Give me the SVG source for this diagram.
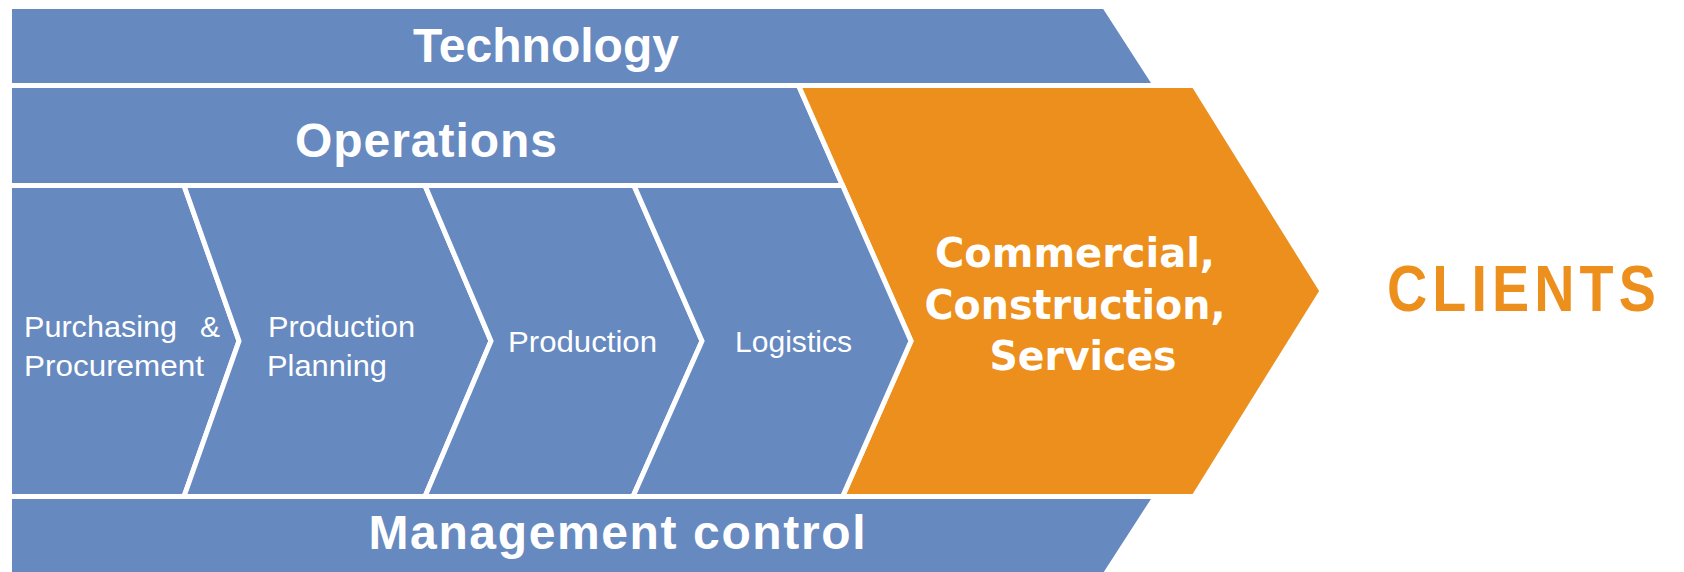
<svg xmlns="http://www.w3.org/2000/svg" width="1684" height="572" viewBox="0 0 1684 572">
<style>
.blue{fill:#6689C0;stroke:#FFFFFF;stroke-width:5;stroke-linejoin:miter}
.orange{fill:#EC8F1D;stroke:#FFFFFF;stroke-width:5;stroke-linejoin:miter}
.hd{font-family:"Liberation Sans",Arial,sans-serif;font-weight:bold;fill:#FFFFFF}
.cm{font-family:"DejaVu Sans",Verdana,sans-serif;font-weight:bold;font-size:40px;fill:#FFFFFF}
.sm{font-family:"Liberation Sans",Arial,sans-serif;font-size:30px;fill:#FFFFFF}
.cl{font-family:"Liberation Sans",Arial,sans-serif;font-weight:bold;font-size:64px;fill:#EC8F1D}
</style>
<rect width="1684" height="572" fill="#FFFFFF"/>
<g id="technology">
<polygon class="blue" points="9.5,6.5 1104.5,6.5 1155.5,85.5 9.5,85.5"/>
<text class="hd" x="546" y="62" font-size="48" text-anchor="middle">Technology</text>
</g>
<g id="operations">
<polygon class="blue" points="9.5,85.5 798.6,85.5 842.6,185.5 9.5,185.5"/>
<text class="hd" x="426" y="157" font-size="48" text-anchor="middle" textLength="262" lengthAdjust="spacing">Operations</text>
</g>
<g id="commercial">
<polygon class="orange" points="798.6,85.5 1194,85.5 1322,291 1194,496.5 842.6,496.5 911,341"/>
<text class="cm" text-anchor="middle">
<tspan x="1082" y="267" textLength="280" lengthAdjust="spacingAndGlyphs">Commercial,</tspan>
<tspan x="1082" y="319" textLength="301" lengthAdjust="spacingAndGlyphs">Construction,</tspan>
<tspan x="1083" y="370" textLength="187" lengthAdjust="spacingAndGlyphs">Services</tspan>
</text>
</g>
<g id="purchasing">
<polygon class="blue" points="9.5,185.5 184,185.5 239,341 184,496.5 9.5,496.5"/>
<text class="sm"><tspan x="24" y="337" textLength="153" lengthAdjust="spacingAndGlyphs">Purchasing</tspan><tspan x="200" y="337">&amp;</tspan><tspan x="24" y="376" textLength="180" lengthAdjust="spacingAndGlyphs">Procurement</tspan></text>
</g>
<g id="production-planning">
<polygon class="blue" points="184,185.5 425,185.5 491,341 425,496.5 184,496.5 239,341"/>
<text class="sm"><tspan x="268" y="337" textLength="147" lengthAdjust="spacingAndGlyphs">Production</tspan><tspan x="267" y="376" textLength="120" lengthAdjust="spacingAndGlyphs">Planning</tspan></text>
</g>
<g id="production">
<polygon class="blue" points="425,185.5 634,185.5 702,341 633,496.5 425,496.5 491,341"/>
<text class="sm" x="508" y="352" textLength="149" lengthAdjust="spacingAndGlyphs">Production</text>
</g>
<g id="logistics">
<polygon class="blue" points="634,185.5 842.6,185.5 911,341 842.6,496.5 633,496.5 702,341"/>
<text class="sm" x="735" y="352" textLength="117" lengthAdjust="spacingAndGlyphs">Logistics</text>
</g>
<g id="management-control">
<polygon class="blue" points="9.5,496.5 1155.5,496.5 1104.5,575.5 9.5,575.5"/>
<text class="hd" x="617" y="549" font-size="48" text-anchor="middle" textLength="497" lengthAdjust="spacing">Management control</text>
</g>
<g id="clients">
<text class="cl" transform="translate(1387,311) scale(0.87,1)" x="0" y="0" textLength="309" lengthAdjust="spacing">CLIENTS</text>
</g>
<g id="connectors"></g>
</svg>
